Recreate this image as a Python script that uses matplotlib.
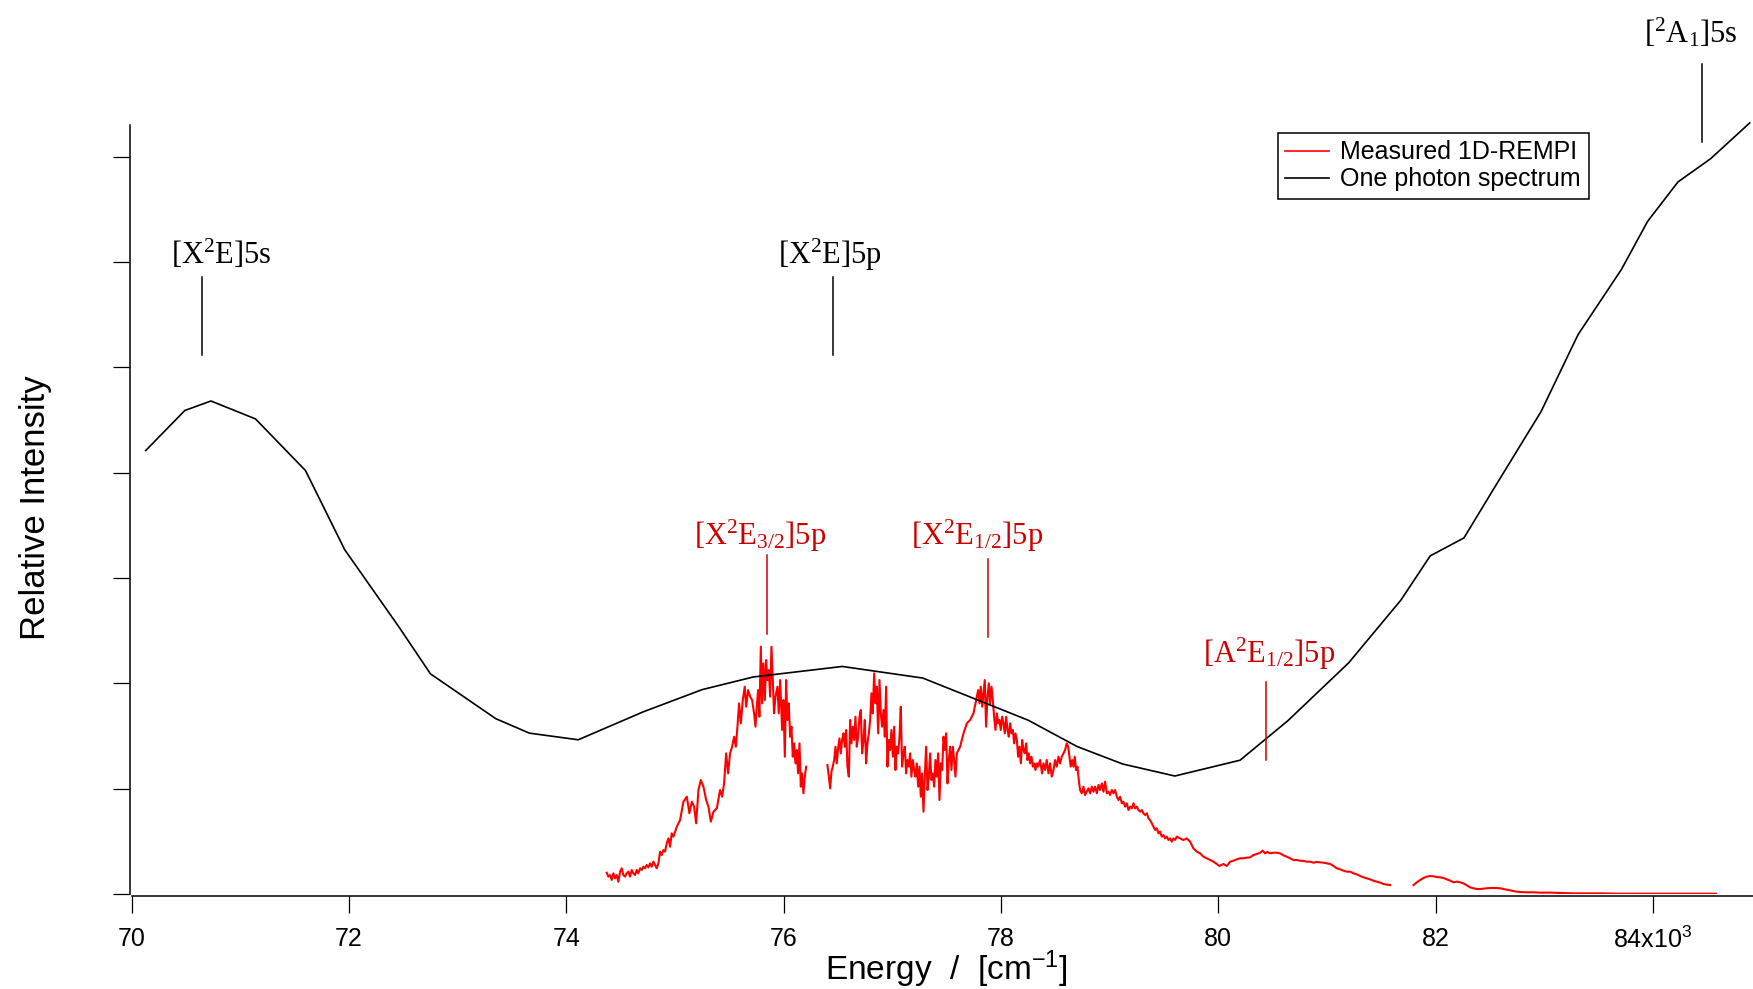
import matplotlib
matplotlib.use('Agg')
import matplotlib.pyplot as plt

plt.rcParams['font.family'] = ['Liberation Sans', 'DejaVu Sans']
plt.rcParams['mathtext.default'] = 'regular'

# ---------------- data ----------------
# One photon spectrum (energy in 10^3 cm^-1, relative intensity)
photon_x = [70.13, 70.49, 70.73, 71.14, 71.60, 71.96, 72.46, 72.75, 73.35, 73.66,
            74.11, 74.71, 75.25, 75.72, 76.54, 77.28, 78.25, 78.70, 79.12, 79.60,
            80.20, 80.64, 81.20, 81.68, 81.95, 82.26, 82.56, 82.97, 83.31, 83.71,
            83.95, 84.23, 84.53, 84.89]
photon_y = [4.21, 4.59, 4.68, 4.51, 4.02, 3.27, 2.535, 2.09, 1.665, 1.527,
            1.464, 1.73, 1.94, 2.06, 2.16, 2.05, 1.65, 1.40, 1.234, 1.12,
            1.27, 1.645, 2.195, 2.79, 3.21, 3.38, 3.89, 4.58, 5.31, 5.93,
            6.385, 6.76, 6.98, 7.32]

# Measured 1D-REMPI, three scan segments (x, y)
rempi_seg1 = [
    (74.372, 0.202), (74.387, 0.165), (74.403, 0.180), (74.418, 0.133), (74.433, 0.196),
    (74.449, 0.149), (74.464, 0.180), (74.479, 0.117), (74.495, 0.212), (74.510, 0.244),
    (74.525, 0.180), (74.541, 0.165), (74.556, 0.196), (74.571, 0.212), (74.587, 0.165),
    (74.602, 0.228), (74.617, 0.196), (74.633, 0.180), (74.648, 0.228), (74.663, 0.196),
    (74.679, 0.244), (74.694, 0.228), (74.710, 0.259), (74.725, 0.244), (74.740, 0.275),
    (74.756, 0.253), (74.771, 0.291), (74.786, 0.259), (74.802, 0.307), (74.817, 0.275),
    (74.832, 0.244), (74.848, 0.291), (74.863, 0.402), (74.878, 0.370), (74.894, 0.417),
    (74.909, 0.402), (74.924, 0.481), (74.940, 0.528), (74.955, 0.449), (74.970, 0.576),
    (74.986, 0.544),
    (75.017, 0.639), (75.047, 0.702), (75.078, 0.876), (75.109, 0.924), (75.133, 0.766),
    (75.155, 0.876), (75.176, 0.829), (75.195, 0.671), (75.216, 0.987), (75.238, 1.082),
    (75.262, 1.019), (75.287, 0.892), (75.308, 0.829), (75.330, 0.687), (75.354, 0.781),
    (75.385, 0.813), (75.415, 0.987), (75.434, 0.924), (75.452, 1.050), (75.471, 1.335),
    (75.489, 1.145), (75.507, 1.335), (75.526, 1.398), (75.544, 1.493), (75.560, 1.398),
    (75.575, 1.588), (75.590, 1.810), (75.606, 1.620), (75.624, 1.841), (75.642, 1.968),
    (75.655, 1.778), (75.673, 1.936), (75.692, 1.873), (75.710, 1.841), (75.728, 1.715),
    (75.741, 1.588), (75.753, 1.778), (75.765, 1.936), (75.777, 1.683), (75.790, 2.348),
    (75.802, 1.810), (75.814, 2.189), (75.827, 1.841), (75.839, 2.221), (75.851, 2.031),
    (75.863, 2.126), (75.876, 1.873), (75.888, 2.348), (75.900, 2.031), (75.912, 1.715),
    (75.925, 1.873), (75.943, 1.968), (75.955, 1.715), (75.968, 2.031), (75.986, 1.557),
    (75.998, 1.841), (76.011, 1.303), (76.023, 2.031), (76.035, 1.652), (76.047, 1.810),
    (76.060, 1.493), (76.072, 1.588), (76.084, 1.303), (76.096, 1.430), (76.109, 1.240),
    (76.121, 1.367), (76.133, 1.145), (76.146, 1.430), (76.158, 1.019), (76.170, 1.145),
    (76.182, 0.955), (76.195, 1.114), (76.207, 1.209),
]

rempi_seg2 = [
    (76.403, 1.224), (76.416, 1.114), (76.428, 1.003), (76.440, 1.161), (76.452, 1.209),
    (76.465, 1.272), (76.477, 1.398), (76.489, 1.240), (76.501, 1.383), (76.514, 1.477),
    (76.526, 1.335), (76.538, 1.462), (76.551, 1.525), (76.563, 1.398), (76.575, 1.557),
    (76.587, 1.209), (76.600, 1.114), (76.612, 1.652), (76.624, 1.430), (76.636, 1.588),
    (76.649, 1.462), (76.661, 1.683), (76.673, 1.398), (76.685, 1.493), (76.698, 1.683),
    (76.710, 1.746), (76.722, 1.335), (76.735, 1.462), (76.747, 1.652), (76.759, 1.240),
    (76.771, 1.430), (76.784, 1.525), (76.796, 1.652), (76.808, 1.905), (76.820, 1.715),
    (76.833, 2.094), (76.845, 1.810), (76.857, 1.968), (76.870, 1.525), (76.882, 2.031),
    (76.894, 1.715), (76.906, 1.588), (76.919, 1.746), (76.931, 1.493), (76.943, 1.968),
    (76.955, 1.209), (76.968, 1.462), (76.980, 1.367), (76.992, 1.557), (77.005, 1.303),
    (77.017, 1.588), (77.029, 1.177), (77.041, 1.398), (77.054, 1.335), (77.066, 1.493),
    (77.078, 1.778), (77.090, 1.209), (77.103, 1.335), (77.115, 1.398), (77.127, 1.145),
    (77.139, 1.272), (77.152, 1.209), (77.164, 1.335), (77.176, 1.114), (77.189, 1.272),
    (77.201, 1.177), (77.213, 1.114), (77.225, 1.240), (77.238, 1.019), (77.250, 1.209),
    (77.262, 0.924), (77.274, 1.145), (77.287, 0.781), (77.299, 1.114), (77.311, 1.398),
    (77.324, 0.987), (77.336, 1.114), (77.348, 1.335), (77.360, 1.082), (77.373, 1.145),
    (77.385, 1.019), (77.397, 1.272), (77.409, 1.114), (77.422, 1.335), (77.434, 0.892),
    (77.446, 1.240), (77.459, 1.177), (77.471, 1.493), (77.483, 1.367), (77.495, 1.525),
    (77.508, 1.050), (77.520, 1.272), (77.532, 1.398), (77.544, 1.177), (77.557, 1.398),
    (77.569, 1.272), (77.581, 1.114), (77.594, 1.335), (77.624, 1.398), (77.655, 1.525),
    (77.686, 1.620), (77.716, 1.652), (77.747, 1.715), (77.778, 1.873), (77.790, 1.936),
    (77.802, 1.810), (77.814, 1.968), (77.827, 1.778), (77.839, 1.905), (77.851, 2.031),
    (77.863, 1.588), (77.876, 1.873), (77.888, 2.000), (77.900, 1.810), (77.913, 1.968),
    (77.925, 1.841), (77.937, 1.683), (77.949, 1.557), (77.962, 1.715), (77.974, 1.620),
    (77.986, 1.652), (77.998, 1.557), (78.011, 1.683), (78.023, 1.620), (78.035, 1.525),
    (78.048, 1.683), (78.060, 1.557), (78.072, 1.493), (78.084, 1.620), (78.097, 1.525),
    (78.109, 1.557), (78.121, 1.430), (78.133, 1.525), (78.146, 1.462), (78.158, 1.303),
    (78.170, 1.398), (78.183, 1.240), (78.195, 1.462), (78.207, 1.367), (78.219, 1.335),
    (78.232, 1.430), (78.244, 1.272), (78.256, 1.335), (78.268, 1.240), (78.281, 1.303),
    (78.293, 1.209), (78.305, 1.240), (78.317, 1.177), (78.330, 1.240), (78.342, 1.209),
    (78.360, 1.272),
    (78.378, 1.145), (78.391, 1.240), (78.406, 1.177), (78.421, 1.272), (78.437, 1.145),
    (78.452, 1.240), (78.467, 1.114), (78.483, 1.177), (78.498, 1.272), (78.513, 1.209),
    (78.529, 1.304), (78.544, 1.240), (78.559, 1.304), (78.575, 1.335), (78.590, 1.367),
    (78.605, 1.430), (78.618, 1.398), (78.630, 1.304), (78.642, 1.209), (78.655, 1.272),
    (78.667, 1.209), (78.679, 1.304), (78.691, 1.177), (78.704, 1.209), (78.716, 1.082),
    (78.728, 0.987), (78.743, 0.956), (78.759, 1.019), (78.774, 0.940), (78.789, 0.971),
    (78.805, 1.003), (78.820, 0.956), (78.836, 1.019), (78.851, 0.971), (78.866, 1.019),
    (78.882, 0.956), (78.897, 1.035), (78.912, 0.987), (78.928, 1.050), (78.943, 0.971),
    (78.958, 1.066), (78.974, 0.956), (78.989, 0.971), (79.004, 0.940), (79.020, 0.987),
    (79.035, 0.956), (79.050, 0.987), (79.066, 0.924), (79.081, 0.892), (79.096, 0.924),
    (79.112, 0.861), (79.127, 0.876), (79.142, 0.829), (79.158, 0.861), (79.173, 0.797),
    (79.188, 0.829), (79.204, 0.813), (79.219, 0.861), (79.234, 0.813), (79.250, 0.829),
    (79.265, 0.797), (79.280, 0.782), (79.296, 0.797), (79.311, 0.766), (79.326, 0.750),
    (79.342, 0.766), (79.357, 0.718), (79.372, 0.702), (79.388, 0.671), (79.403, 0.639),
    (79.418, 0.608), (79.434, 0.623), (79.449, 0.576), (79.464, 0.592), (79.480, 0.544),
    (79.495, 0.560), (79.510, 0.528), (79.526, 0.544), (79.541, 0.513), (79.556, 0.528),
    (79.572, 0.497), (79.587, 0.528), (79.602, 0.513), (79.618, 0.544), (79.648, 0.528),
    (79.679, 0.512), (79.710, 0.528), (79.740, 0.497), (79.771, 0.433), (79.802, 0.402),
    (79.832, 0.386), (79.863, 0.354), (79.894, 0.339), (79.925, 0.323), (79.955, 0.307),
    (79.986, 0.285), (80.010, 0.266), (80.047, 0.285), (80.078, 0.266), (80.109, 0.307),
    (80.139, 0.316), (80.170, 0.329), (80.201, 0.339), (80.231, 0.339), (80.262, 0.345),
    (80.293, 0.348), (80.323, 0.370), (80.354, 0.380), (80.385, 0.392), (80.409, 0.411),
    (80.431, 0.386), (80.452, 0.399), (80.477, 0.386), (80.507, 0.392), (80.538, 0.392),
    (80.569, 0.386), (80.599, 0.367), (80.630, 0.354), (80.661, 0.339), (80.691, 0.323),
    (80.722, 0.323), (80.753, 0.316), (80.784, 0.313), (80.814, 0.307), (80.845, 0.307),
    (80.876, 0.297), (80.906, 0.304), (80.937, 0.301), (80.968, 0.297), (80.998, 0.291),
    (81.029, 0.285), (81.060, 0.266), (81.090, 0.244), (81.121, 0.234), (81.152, 0.221),
    (81.182, 0.212), (81.213, 0.212), (81.244, 0.196), (81.274, 0.187), (81.305, 0.171),
    (81.336, 0.158), (81.366, 0.149), (81.397, 0.139), (81.428, 0.126), (81.458, 0.117),
    (81.489, 0.108), (81.520, 0.095), (81.550, 0.089), (81.581, 0.085),
]

rempi_seg3 = [
    (81.796, 0.085), (81.827, 0.111), (81.857, 0.133), (81.888, 0.152), (81.919, 0.165),
    (81.949, 0.171), (81.980, 0.168), (82.011, 0.161), (82.041, 0.158), (82.072, 0.152),
    (82.103, 0.139), (82.133, 0.127), (82.164, 0.111), (82.195, 0.117), (82.225, 0.111),
    (82.256, 0.101), (82.287, 0.082), (82.317, 0.063), (82.348, 0.054), (82.379, 0.047),
    (82.409, 0.047), (82.440, 0.051), (82.471, 0.054), (82.501, 0.057), (82.532, 0.057),
    (82.563, 0.057), (82.593, 0.054), (82.624, 0.047), (82.655, 0.041), (82.685, 0.035),
    (82.716, 0.028), (82.747, 0.022), (82.777, 0.019), (82.839, 0.016), (82.900, 0.016),
    (82.962, 0.013), (83.054, 0.013), (83.146, 0.010), (83.268, 0.006), (83.391, 0.006),
    (83.514, 0.006), (83.667, 0.003), (83.821, 0.003), (83.974, 0.003), (84.127, 0.003),
    (84.281, 0.003), (84.434, 0.003), (84.581, 0.003),
]

# x tick labels
xtick_vals = [70, 72, 74, 76, 78, 80, 82, 84]
xtick_labels = ['70', '72', '74', '76', '78', '80', '82', '84x10$^{3}$']
ytick_vals = [0, 1, 2, 3, 4, 5, 6, 7]

# state assignments: label, text x, text baseline y, marker x, marker y bottom, marker y top, colour
state_labels = [r'$[X^{2}E]5s$', r'$[X^{2}E]5p$', r'$[^{2}A_{1}]5s$',
                r'$[X^{2}E_{3/2}]5p$', r'$[X^{2}E_{1/2}]5p$', r'$[A^{2}E_{1/2}]5p$']
state_text_x = [70.83, 76.43, 84.35, 75.78, 77.78, 80.47]
state_text_y = [5.98, 5.98, 8.08, 3.31, 3.31, 2.19]
state_line_x = [70.65, 76.45, 84.45, 75.85, 77.88, 80.44]
state_line_y0 = [5.12, 5.12, 7.14, 2.47, 2.44, 1.27]
state_line_y1 = [5.86, 5.86, 7.88, 3.22, 3.18, 2.01]
state_colors = ['black', 'black', 'black', '#CC0000', '#CC0000', '#CC0000']

# ---------------- figure ----------------
fig = plt.figure(figsize=(17.53, 9.89), dpi=100)
ax = fig.add_axes([0.07507, 0.09606, 0.92493, 0.77755])

red_line = None
for seg in (rempi_seg1, rempi_seg2, rempi_seg3):
    xs = [p[0] for p in seg]
    ys = [p[1] for p in seg]
    l, = ax.plot(xs, ys, color='#FF0000', lw=1.5, zorder=2)
    red_line = red_line or l
black_line, = ax.plot(photon_x, photon_y, color='black', lw=1.2, zorder=3, clip_on=False)

for lab, tx, ty, lx, y0, y1, c in zip(state_labels, state_text_x, state_text_y, state_line_x,
                                      state_line_y0, state_line_y1, state_colors):
    ax.text(tx, ty, lab, ha='center', va='baseline', fontsize=22,
            family='Liberation Serif', color=c, clip_on=False)
    ax.plot([lx, lx], [y0, y1], color=c, lw=1.1, clip_on=False, zorder=4)

ax.set_xlim(70, 84.92)
ax.set_ylim(0, 7.3)
for s in ('top', 'right'):
    ax.spines[s].set_visible(False)
for s in ('left', 'bottom'):
    ax.spines[s].set_linewidth(1.1)
    ax.spines[s].set_position(('outward', 1.5))

ax.set_xticks(xtick_vals)
ax.set_xticklabels(xtick_labels, fontsize=18)
ax.set_yticks(ytick_vals)
ax.set_yticklabels([])
ax.tick_params(axis='both', direction='out', length=12, width=0.9, color='black')
ax.tick_params(axis='x', pad=10)

ax.set_xlabel('Energy  /  [cm$^{-1}$]', fontsize=24)
ax.xaxis.label.set_va('center')
ax.xaxis.set_label_coords(0.5023, -0.098)
ax.set_ylabel('Relative Intensity', fontsize=25)
ax.yaxis.label.set_va('center')
ax.yaxis.set_label_coords(-0.0595, 0.502)

leg = ax.legend([red_line, black_line], ['Measured 1D-REMPI', 'One photon spectrum'],
                loc='upper left', bbox_to_anchor=(0.7070, 0.9896), fontsize=18,
                frameon=True, fancybox=False, edgecolor='black', framealpha=1,
                borderpad=0.3, labelspacing=0.12, handlelength=1.75, handletextpad=0.45,
                borderaxespad=0)
leg.get_frame().set_linewidth(1.1)
for h in leg.get_lines():
    h.set_linewidth(1.2)

fig.savefig('out.png', dpi=100)
